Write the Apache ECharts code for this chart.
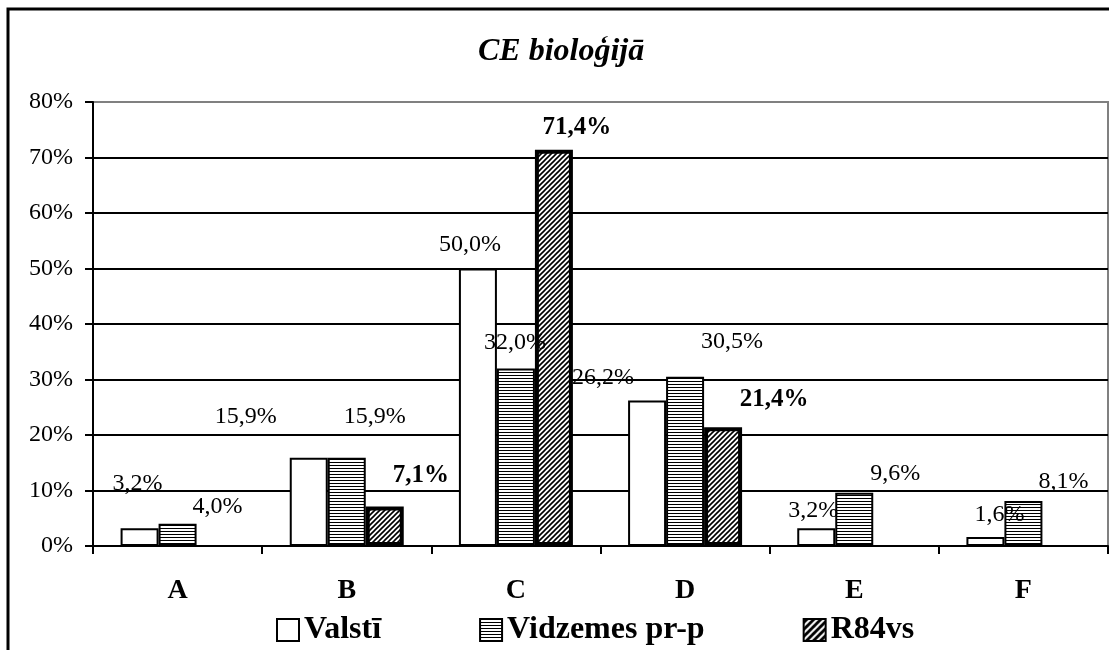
<!DOCTYPE html>
<html>
<head>
<meta charset="utf-8">
<script src="https://cdn.jsdelivr.net/npm/echarts@6/dist/echarts.min.js"></script>
<style>
  html, body { margin: 0; padding: 0; background: #fff; }
  #main { width: 1109px; height: 650px; }
</style>
</head>
<body>
<div id="main"></div>
<script>
// kategorijas un vērtības (%)
const categories = ['A', 'B', 'C', 'D', 'E', 'F']
const seriesNames = ['Valstī', 'Vidzemes pr-p', 'R84vs']
const valsti = [3.2, 15.9, 50.0, 26.2, 3.2, 1.6]
const vidzemes = [4.0, 15.9, 32.0, 30.5, 9.6, 8.1]
const r84vs = [null, 7.1, 71.4, 21.4, null, null]
const yTicks = [0, 10, 20, 30, 40, 50, 60, 70, 80]

// etiķešu nobīdes [dx, dy] kā oriģinālajā diagrammā
const valstiShift = [[-2, -33], [-63, -29], [-8, -12], [-44, -11], [-3, -6], [14, -10]]
const vidzemesShift = [[40, -5], [28, -29], [-1, -14], [47, -23], [41, -7], [40, -7]]
const r84Shift = [null, [36, -19], [23, -10], [51, -15], null, null]

const FONT = 'Liberation Serif'

// šķērssvītrojuma raksti
function makePattern(kind) {
  const c = document.createElement('canvas')
  const ctx = c.getContext('2d')
  if (kind === 'h') {
    c.width = 4
    c.height = 3
    ctx.fillStyle = '#fff'
    ctx.fillRect(0, 0, 4, 3)
    ctx.fillStyle = '#000'
    ctx.fillRect(0, 0, 4, 1)
  } else if (kind === 'd') {
    c.width = 5
    c.height = 5
    ctx.fillStyle = '#fff'
    ctx.fillRect(0, 0, 5, 5)
    ctx.strokeStyle = '#000'
    ctx.lineWidth = 1.6
    ctx.beginPath()
    ctx.moveTo(-1, 6); ctx.lineTo(6, -1)
    ctx.moveTo(-1, 1); ctx.lineTo(1, -1)
    ctx.moveTo(4, 6); ctx.lineTo(6, 4)
    ctx.stroke()
  } else {
    // leģendas ikonai: melns fons, baltas svītras
    c.width = 7
    c.height = 7
    ctx.fillStyle = '#000'
    ctx.fillRect(0, 0, 7, 7)
    ctx.strokeStyle = '#fff'
    ctx.lineWidth = 2
    ctx.beginPath()
    ctx.moveTo(-1, 8); ctx.lineTo(8, -1)
    ctx.moveTo(-1, 1); ctx.lineTo(1, -1)
    ctx.moveTo(6, 8); ctx.lineTo(8, 6)
    ctx.stroke()
  }
  return { image: c, repeat: 'repeat' }
}

const fmt = v => v.toFixed(1).replace('.', ',') + '%'

function withLabels(values, shifts) {
  return values.map((v, i) => {
    if (v == null) return null
    return { value: v, label: { offset: shifts[i] } }
  })
}

const chart = echarts.init(document.getElementById('main'), null, { renderer: 'canvas' })

const labelBase = {
  show: true,
  position: 'top',
  distance: 0,
  color: '#000',
  fontFamily: FONT,
  fontSize: 24,
  formatter: p => fmt(p.value)
}

chart.setOption({
  backgroundColor: '#fff',
  animation: false,
  title: {
    text: 'CE bioloģijā',
    left: 478,
    top: 36,
    padding: 0,
    textStyle: {
      fontFamily: FONT,
      fontSize: 32,
      fontStyle: 'italic',
      fontWeight: 'bold',
      color: '#000'
    }
  },
  graphic: [{
    type: 'rect',
    shape: { x: 8, y: 9, width: 1200, height: 700 },
    style: { fill: 'none', stroke: '#000', lineWidth: 3 },
    silent: true
  }],
  legend: {
    left: 276,
    top: 614,
    padding: 0,
    itemGap: 98,
    itemWidth: 22,
    itemHeight: 22,
    icon: 'rect',
    textStyle: { fontFamily: FONT, fontSize: 32, fontWeight: 'bold', color: '#000' },
    data: [
      { name: seriesNames[0], itemStyle: { borderWidth: 2 } },
      { name: seriesNames[1], itemStyle: { borderWidth: 2 } },
      { name: seriesNames[2], itemStyle: { borderWidth: 2, color: makePattern('inv') } }
    ]
  },
  grid: {
    left: 93,
    right: 1,
    top: 102,
    bottom: 104,
    show: true,
    borderColor: '#808080',
    borderWidth: 2,
    backgroundColor: 'transparent'
  },
  xAxis: {
    type: 'category',
    data: categories,
    axisLine: { lineStyle: { color: '#000', width: 2 } },
    axisTick: { show: true, length: 8, lineStyle: { color: '#000', width: 2 } },
    axisLabel: { fontFamily: FONT, fontSize: 28, fontWeight: 'bold', color: '#000', margin: 31 }
  },
  yAxis: {
    type: 'value',
    min: yTicks[0],
    max: yTicks[yTicks.length - 1],
    interval: 10,
    axisLine: { show: true, lineStyle: { color: '#000', width: 2 } },
    axisTick: { show: true, length: 8, lineStyle: { color: '#000', width: 2 } },
    axisLabel: { fontFamily: FONT, fontSize: 24, color: '#000', margin: 20, formatter: '{value}%' },
    splitLine: { show: true, showMinLine: false, showMaxLine: false, lineStyle: { color: '#000', width: 2 } }
  },
  series: [{
    name: seriesNames[0],
    type: 'bar',
    barWidth: 38,
    barGap: '0%',
    data: withLabels(valsti, valstiShift),
    itemStyle: { color: '#fff', borderColor: '#000', borderWidth: 2 },
    label: labelBase
  }, {
    name: seriesNames[1],
    type: 'bar',
    barWidth: 38,
    barGap: '0%',
    data: withLabels(vidzemes, vidzemesShift),
    itemStyle: { color: makePattern('h'), borderColor: '#000', borderWidth: 2 },
    label: labelBase
  }, {
    name: seriesNames[2],
    type: 'bar',
    barWidth: 38,
    barGap: '0%',
    data: withLabels(r84vs, r84Shift),
    itemStyle: { color: makePattern('d'), borderColor: '#000', borderWidth: 4 },
    label: Object.assign({}, labelBase, { fontSize: 25, fontWeight: 'bold' })
  }]
})
</script>
</body>
</html>
